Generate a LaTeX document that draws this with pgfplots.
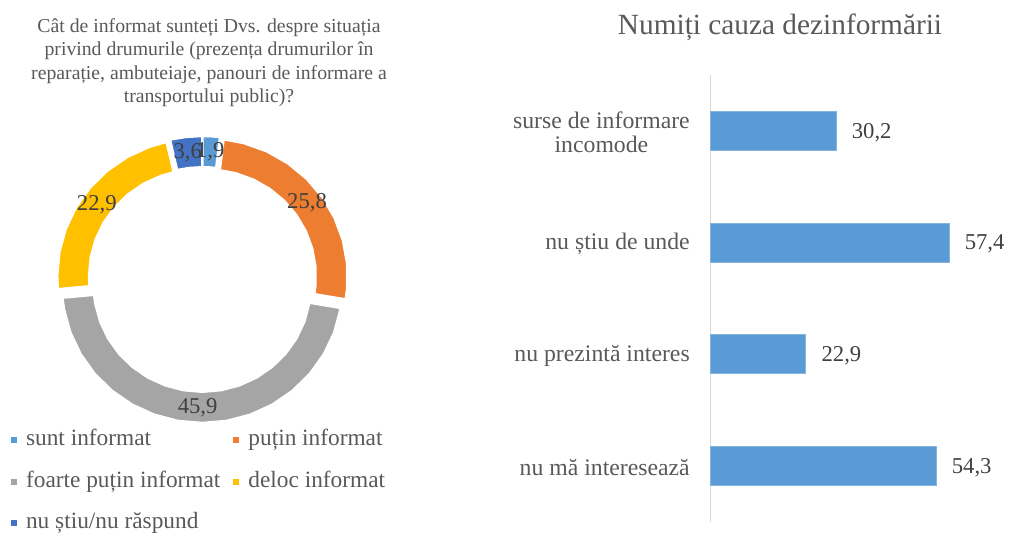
\documentclass[border=0pt]{standalone}
\usepackage{fontspec}
\setmainfont{Liberation Serif}
\usepackage{pgfplots}
\pgfplotsset{compat=1.18}
\definecolor{cLB}{HTML}{5B9BD5}
\definecolor{cOR}{HTML}{ED7D31}
\definecolor{cGR}{HTML}{A5A5A5}
\definecolor{cYE}{HTML}{FFC000}
\definecolor{cDB}{HTML}{4472C4}
\definecolor{txt}{HTML}{595959}
\definecolor{lbl}{HTML}{404040}
\definecolor{axg}{HTML}{D9D9D9}
\begin{document}
\begin{tikzpicture}
\path[use as bounding box] (0,0) rectangle (756.75pt,399pt);
\node[text=txt, align=center, font=\fontsize{14.8}{17.5}\selectfont] at (156.75pt,352.1pt)
 {Cât de informat sunteți Dvs. despre situația\\privind drumurile (prezența drumurilor în\\reparație, ambuteiaje, panouri de informare a\\transportului public)?};
\node[text=txt, anchor=base, font=\fontsize{22}{26}\selectfont] at (585pt,372.75pt) {Numiți cauza dezinformării};

% ---------- donut ----------
\begin{axis}[at={(151.875pt,189.375pt)}, anchor=center, scale only axis,
  x=0.75pt, y=0.735pt, xmin=-150, xmax=150, ymin=-150, ymax=150,
  hide axis, clip=false, data cs=polar,
  legend image code/.code={\path[#1] (0pt,-2.25pt) rectangle (4.5pt,2.25pt);},
  legend style={at={(-0.139,-0.005)}, anchor=north west, draw=none, fill=none,
    inner sep=0pt, font=\fontsize{17.5}{20}\selectfont, text=txt,
    nodes={inner sep=1pt, text height=12pt, text depth=4pt},
    row sep=13.1pt,
    /tikz/every odd column/.style={column sep=5.75pt},
    /tikz/every even column/.style={column sep=8.75pt}},
  legend columns=2, legend cell align=left]
\addplot[fill=cLB, draw=white, line width=1.2pt, xshift=0.27pt, yshift=4.40pt, forget plot]
 coordinates {(90,140) (86.58,140) (83.17,140) (83.17,109) (86.58,109) (90,109) (90,140)};
\addplot[fill=cOR, draw=white, line width=1.2pt, xshift=3.60pt, yshift=2.64pt, forget plot]
 coordinates {(83.17,140) (75,140) (65,140) (55,140) (45,140) (35,140) (25,140) (15,140) (5,140) (-5,140) (-9.62,140)
  (-9.62,109) (-5,109) (5,109) (15,109) (25,109) (35,109) (45,109) (55,109) (65,109) (75,109) (83.17,109) (83.17,140)};
\addplot[fill=cGR, draw=white, line width=1.2pt, xshift=-0.17pt, yshift=-4.41pt, forget plot]
 coordinates {(-9.62,140) (-20,140) (-30,140) (-40,140) (-50,140) (-60,140) (-70,140) (-80,140) (-90,140) (-100,140)
  (-110,140) (-120,140) (-130,140) (-140,140) (-150,140) (-160,140) (-170,140) (-174.70,140)
  (-174.70,109) (-170,109) (-160,109) (-150,109) (-140,109) (-130,109) (-120,109) (-110,109) (-100,109)
  (-90,109) (-80,109) (-70,109) (-60,109) (-50,109) (-40,109) (-30,109) (-20,109) (-9.62,109) (-9.62,140)};
\addplot[fill=cYE, draw=white, line width=1.2pt, xshift=-3.65pt, yshift=2.58pt, forget plot]
 coordinates {(-174.70,140) (-180,140) (-190,140) (-200,140) (-210,140) (-220,140) (-230,140) (-240,140) (-250,140) (-257.05,140)
  (-257.05,109) (-250,109) (-240,109) (-230,109) (-220,109) (-210,109) (-200,109) (-190,109) (-180,109) (-174.70,109) (-174.70,140)};
\addplot[fill=cDB, draw=white, line width=1.2pt, xshift=-0.51pt, yshift=4.38pt, forget plot]
 coordinates {(-257.05,140) (-263.5,140) (-270,140) (-270,109) (-263.5,109) (-257.05,109) (-257.05,140)};
\addplot[draw=none, mark=none, forget plot, nodes near coords, point meta=explicit symbolic,
  every node near coord/.append style={anchor=center, font=\fontsize{17}{20}\selectfont, text=lbl, inner sep=0pt}]
 coordinates {(86.58,130.5)[1,9] (36.78,130.5)[25,8] (-92.16,130.5)[45,9] (144.12,130.5)[22,9] (96.48,130.5)[3,6]};
\addlegendimage{fill=cLB, draw=none}
\addlegendentry{sunt informat}
\addlegendimage{fill=cOR, draw=none}
\addlegendentry{puțin informat}
\addlegendimage{fill=cGR, draw=none}
\addlegendentry{foarte puțin informat}
\addlegendimage{fill=cYE, draw=none}
\addlegendentry{deloc informat}
\addlegendimage{fill=cDB, draw=none}
\addlegendentry{nu știu/nu răspund}
\end{axis}

% ---------- bars ----------
\begin{axis}[at={(533pt,7.5pt)}, anchor=south west, scale only axis,
  width=217.9pt, height=335.25pt, xbar, xmin=0, xmax=70, ymin=-0.5, ymax=3.5,
  y dir=reverse, bar width=29.25pt, axis x line=none, axis y line*=left,
  y axis line style={draw=axg, line width=1pt},
  ytick={0,1,2,3},
  yticklabels={{surse de informare\\incomode},{nu știu de unde},{nu prezintă interes},{nu mă interesează}},
  major tick length=0pt, tick style={draw=none},
  yticklabel style={align=center, text=txt, font=\fontsize{17.8}{18.2}\selectfont, inner sep=0pt, xshift=-15.5pt, yshift=-1pt},
  nodes near coords, point meta=explicit symbolic, nodes near coords align=horizontal,
  every node near coord/.append style={anchor=west, text=lbl, font=\fontsize{17}{20}\selectfont, inner sep=0pt, xshift=11.6pt, yshift=-1pt},
  clip=false]
\addplot[fill=cLB, draw=cLB!75!white, line width=0.6pt]
 coordinates {(30.2,0)[30,2] (57.4,1)[57,4] (22.9,2)[22,9] (54.3,3)[54,3]};
\end{axis}
\end{tikzpicture}
\end{document}
